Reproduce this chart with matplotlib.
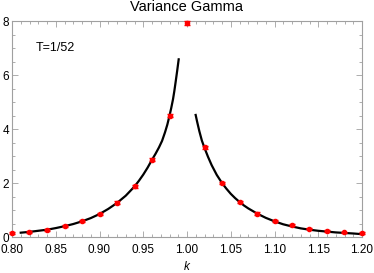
import matplotlib
matplotlib.use("Agg")
import matplotlib.pyplot as plt
from matplotlib.ticker import MultipleLocator, FormatStrFormatter

plt.rcParams['font.family'] = ['Liberation Sans', 'DejaVu Sans']

# simulated points (red, with error bars)
k_pts = [0.80, 0.82, 0.84, 0.86, 0.88, 0.90, 0.92, 0.94, 0.96, 0.98, 1.00,
         1.02, 1.04, 1.06, 1.08, 1.10, 1.12, 1.14, 1.16, 1.18, 1.20]
v_pts = [0.14, 0.19, 0.27, 0.41, 0.58, 0.86, 1.27, 1.88, 2.86, 4.49, 7.93,
         3.32, 2.00, 1.30, 0.87, 0.60, 0.44, 0.31, 0.23, 0.17, 0.14]
v_err = [0.03, 0.03, 0.03, 0.03, 0.04, 0.04, 0.05, 0.05, 0.06, 0.06, 0.08,
         0.06, 0.05, 0.05, 0.04, 0.04, 0.03, 0.03, 0.03, 0.03, 0.03]

# model curve, left branch
k_left = [0.81, 0.82, 0.83, 0.84, 0.85, 0.86, 0.87, 0.88, 0.89, 0.90, 0.91,
          0.92, 0.93, 0.94, 0.945, 0.95, 0.955, 0.96, 0.964, 0.968, 0.9715,
          0.9749, 0.9775, 0.98, 0.982, 0.984, 0.9855, 0.987, 0.9888, 0.9905]
v_left = [0.16, 0.19, 0.23, 0.27, 0.33, 0.40, 0.48, 0.58, 0.70, 0.85, 1.04,
          1.26, 1.53, 1.87, 2.08, 2.31, 2.57, 2.86, 3.08, 3.32, 3.56,
          3.88, 4.16, 4.49, 4.78, 5.10, 5.40, 5.74, 6.16, 6.58]

# model curve, right branch
k_right = [1.0099, 1.0115, 1.0141, 1.017, 1.02, 1.024, 1.0282, 1.034, 1.04,
           1.045, 1.05, 1.055, 1.06, 1.065, 1.07, 1.08, 1.09, 1.10, 1.11,
           1.12, 1.13, 1.14, 1.15, 1.16, 1.17, 1.18, 1.19, 1.198]
v_right = [4.52, 4.28, 3.92, 3.57, 3.30, 2.97, 2.66, 2.30, 2.00,
           1.79, 1.60, 1.44, 1.30, 1.17, 1.06, 0.87, 0.71, 0.58, 0.47,
           0.39, 0.32, 0.27, 0.23, 0.20, 0.17, 0.15, 0.13, 0.11]

fig = plt.figure(figsize=(3.74, 2.73), dpi=100)
ax = fig.add_axes([12/374, 36/273, 350/374, 216/273])

ax.plot(k_left, v_left, color='black', lw=1.6, zorder=2)
ax.plot(k_right, v_right, color='black', lw=1.6, zorder=2)
ax.errorbar(k_pts, v_pts, yerr=v_err, fmt='o', color='red', ms=3,
            elinewidth=1, capsize=2.5, capthick=1, zorder=3, clip_on=False)

ax.set_xlim(0.80, 1.20)
ax.set_ylim(0, 8)
ax.xaxis.set_major_locator(MultipleLocator(0.05))
ax.xaxis.set_minor_locator(MultipleLocator(0.01))
ax.xaxis.set_major_formatter(FormatStrFormatter('%.2f'))
ax.yaxis.set_major_locator(MultipleLocator(2))
ax.yaxis.set_minor_locator(MultipleLocator(0.5))

for s in ax.spines.values():
    s.set_color('#a0a0a0')
    s.set_linewidth(0.8)
ax.tick_params(which='both', direction='in', top=True, right=True,
               color='#a0a0a0', labelsize=8.5, width=0.6)
ax.tick_params(which='major', length=4)
ax.tick_params(which='minor', length=2)
ax.tick_params(axis='x', which='major', pad=5)
ax.tick_params(axis='y', which='major', pad=2)

ax.set_title('Variance Gamma', fontsize=10.5, pad=7)
ax.set_xlabel('k', style='italic', fontsize=8.5, labelpad=4)
ax.text(0.8274, 7.0, 'T=1/52', fontsize=9, va='center', ha='left')

fig.savefig('out.png', dpi=100)
